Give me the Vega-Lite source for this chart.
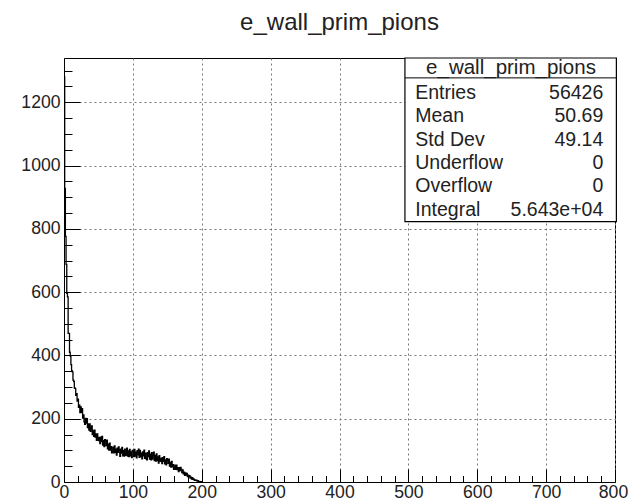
{
  "$schema": "https://vega.github.io/schema/vega-lite/v6.json",
  "width": 551,
  "height": 424,
  "autosize": {"type": "none"},
  "padding": {"left": 64, "top": 58, "right": 13, "bottom": 20},
  "background": "white",
  "title": {"text": "e_wall_prim_pions", "fontSize": 24, "font": "Liberation Sans", "fontWeight": "normal", "color": "#222", "anchor": "middle", "offset": 22},
  "config": {
    "view": {"stroke": "black", "strokeWidth": 1},
    "font": "Liberation Sans",
    "axis": {"domainColor": "black", "tickColor": "black", "labelColor": "#222", "labelFont": "Liberation Sans", "labelFontSize": 17.6, "title": null, "labelFlush": false, "labelOverlap": false, "gridColor": "#777", "gridDash": [2, 3], "gridWidth": 1}
  },
  "datasets": {
    "hist": [
      {"x":0,"n":1280},{"x":1,"n":928},{"x":2,"n":776},{"x":3,"n":688},{"x":4,"n":596},{"x":5,"n":585},{"x":6,"n":470},{"x":7,"n":470},{"x":8,"n":410},{"x":9,"n":398},
      {"x":10,"n":371},{"x":11,"n":352},{"x":12,"n":348},{"x":13,"n":322},{"x":14,"n":318},{"x":15,"n":297},{"x":16,"n":296},{"x":17,"n":274},{"x":18,"n":279},{"x":19,"n":256},
      {"x":20,"n":262},{"x":21,"n":236},{"x":22,"n":243},{"x":23,"n":219},{"x":24,"n":237},{"x":25,"n":219},{"x":26,"n":232},{"x":27,"n":202},{"x":28,"n":212},{"x":29,"n":190},
      {"x":30,"n":182},{"x":31,"n":201},{"x":32,"n":186},{"x":33,"n":200},{"x":34,"n":172},{"x":35,"n":184},{"x":36,"n":164},{"x":37,"n":184},{"x":38,"n":160},{"x":39,"n":169},
      {"x":40,"n":177},{"x":41,"n":150},{"x":42,"n":163},{"x":43,"n":144},{"x":44,"n":164},{"x":45,"n":142},{"x":46,"n":152},{"x":47,"n":132},{"x":48,"n":152},{"x":49,"n":138},
      {"x":50,"n":131},{"x":51,"n":141},{"x":52,"n":121},{"x":53,"n":142},{"x":54,"n":128},{"x":55,"n":144},{"x":56,"n":117},{"x":57,"n":131},{"x":58,"n":112},{"x":59,"n":134},
      {"x":60,"n":129},{"x":61,"n":115},{"x":62,"n":132},{"x":63,"n":105},{"x":64,"n":120},{"x":65,"n":101},{"x":66,"n":123},{"x":67,"n":101},{"x":68,"n":112},{"x":69,"n":92},
      {"x":70,"n":95},{"x":71,"n":110},{"x":72,"n":92},{"x":73,"n":114},{"x":74,"n":93},{"x":75,"n":104},{"x":76,"n":85},{"x":77,"n":107},{"x":78,"n":94},{"x":79,"n":111},
      {"x":80,"n":100},{"x":81,"n":81},{"x":82,"n":104},{"x":83,"n":91},{"x":84,"n":109},{"x":85,"n":83},{"x":86,"n":99},{"x":87,"n":82},{"x":88,"n":104},{"x":89,"n":84},
      {"x":90,"n":89},{"x":91,"n":107},{"x":92,"n":82},{"x":93,"n":98},{"x":94,"n":80},{"x":95,"n":103},{"x":96,"n":83},{"x":97,"n":95},{"x":98,"n":77},{"x":99,"n":100},
      {"x":100,"n":97},{"x":101,"n":80},{"x":102,"n":103},{"x":103,"n":82},{"x":104,"n":94},{"x":105,"n":76},{"x":106,"n":99},{"x":107,"n":86},{"x":108,"n":104},{"x":109,"n":78},
      {"x":110,"n":100},{"x":111,"n":80},{"x":112,"n":91},{"x":113,"n":73},{"x":114,"n":95},{"x":115,"n":83},{"x":116,"n":101},{"x":117,"n":75},{"x":118,"n":91},{"x":119,"n":73},
      {"x":120,"n":70},{"x":121,"n":93},{"x":122,"n":80},{"x":123,"n":98},{"x":124,"n":72},{"x":125,"n":88},{"x":126,"n":70},{"x":127,"n":93},{"x":128,"n":72},{"x":129,"n":84},
      {"x":130,"n":94},{"x":131,"n":68},{"x":132,"n":84},{"x":133,"n":66},{"x":134,"n":89},{"x":135,"n":68},{"x":136,"n":79},{"x":137,"n":60},{"x":138,"n":83},{"x":139,"n":70},
      {"x":140,"n":65},{"x":141,"n":75},{"x":142,"n":58},{"x":143,"n":77},{"x":144,"n":65},{"x":145,"n":80},{"x":146,"n":57},{"x":147,"n":70},{"x":148,"n":54},{"x":149,"n":74},
      {"x":150,"n":69},{"x":151,"n":59},{"x":152,"n":72},{"x":153,"n":50},{"x":154,"n":62},{"x":155,"n":47},{"x":156,"n":65},{"x":157,"n":48},{"x":158,"n":55},{"x":159,"n":40},
      {"x":160,"n":44},{"x":161,"n":53},{"x":162,"n":40},{"x":163,"n":53},{"x":164,"n":39},{"x":165,"n":45},{"x":166,"n":33},{"x":167,"n":45},{"x":168,"n":36},{"x":169,"n":46},
      {"x":170,"n":40},{"x":171,"n":30},{"x":172,"n":38},{"x":173,"n":26},{"x":174,"n":31},{"x":175,"n":21},{"x":176,"n":29},{"x":177,"n":22},{"x":178,"n":27},{"x":179,"n":17},
      {"x":180,"n":22},{"x":181,"n":16},{"x":182,"n":20},{"x":183,"n":12},{"x":184,"n":15},{"x":185,"n":9},{"x":186,"n":14},{"x":187,"n":8},{"x":188,"n":10},{"x":189,"n":5},
      {"x":190,"n":7},{"x":191,"n":5},{"x":192,"n":6},{"x":193,"n":3},{"x":194,"n":4},{"x":195,"n":2},{"x":196,"n":2},{"x":197,"n":1},{"x":198,"n":0},{"x":199,"n":1},
      {"x":200,"n":0}
    ],
    "stats": [
      {"row": 1, "label": "Entries", "value": "56426"},
      {"row": 2, "label": "Mean", "value": "50.69"},
      {"row": 3, "label": "Std Dev", "value": "49.14"},
      {"row": 4, "label": "Underflow", "value": "0"},
      {"row": 5, "label": "Overflow", "value": "0"},
      {"row": 6, "label": "Integral", "value": "5.643e+04"}
    ]
  },
  "layer": [
    {
      "data": {"name": "hist"},
      "mark": {"type": "line", "interpolate": "step-after", "color": "black", "strokeWidth": 1.3},
      "encoding": {
        "x": {"field": "x", "type": "quantitative", "scale": {"domain": [0, 800], "nice": false, "zero": false},
              "axis": {"orient": "bottom", "values": [0,100,200,300,400,500,600,700,800], "format": "d", "tickSize": -13, "labelPadding": 14, "grid": true,
                       "labelOffset": {"condition": {"test": "datum.value == 800", "value": -2}, "value": 0}}},
        "y": {"field": "n", "type": "quantitative", "scale": {"domain": [0, 1340], "nice": false},
              "axis": {"orient": "left", "values": [0,200,400,600,800,1000,1200], "format": "d", "tickSize": -16, "labelPadding": 20, "grid": true}}
      }
    },
    {
      "data": {"name": "hist"},
      "mark": {"type": "line", "opacity": 0},
      "encoding": {
        "x": {"field": "x", "type": "quantitative", "scale": {"domain": [0, 800], "nice": false, "zero": false},
              "axis": {"orient": "bottom", "values": [20,40,60,80,120,140,160,180,220,240,260,280,320,340,360,380,420,440,460,480,520,540,560,580,620,640,660,680,720,740,760,780], "tickSize": -6.5, "labels": false, "domain": false, "grid": false}},
        "y": {"field": "n", "type": "quantitative", "scale": {"domain": [0, 1340], "nice": false},
              "axis": {"orient": "left", "values": [50,100,150,250,300,350,450,500,550,650,700,750,850,900,950,1050,1100,1150,1250,1300], "tickSize": -8, "labels": false, "domain": false, "grid": false}}
      }
    },
    {
      "layer": [
        {
          "data": {"values": [{"box": "stats"}]},
          "mark": {"type": "rect", "fill": "white", "stroke": "black", "strokeWidth": 1.2},
          "encoding": {
            "x": {"datum": 495, "type": "quantitative", "axis": null},
            "x2": {"datum": 802},
            "y": {"datum": -0.49, "type": "quantitative", "scale": {"domain": [-0.49, 17.63], "reverse": true, "nice": false, "zero": false}, "axis": null},
            "y2": {"datum": 6.5}
          }
        },
        {
          "data": {"values": [{"box": "stats"}]},
          "mark": {"type": "rule", "stroke": "black", "strokeWidth": 1},
          "encoding": {
            "x": {"datum": 495, "type": "quantitative", "axis": null},
            "x2": {"datum": 802},
            "y": {"datum": 0.36, "type": "quantitative", "scale": {"domain": [-0.49, 17.63], "reverse": true, "nice": false, "zero": false}, "axis": null}
          }
        },
        {
          "data": {"values": [{"box": "stats"}]},
          "mark": {"type": "text", "text": "e_wall_prim_pions", "fontSize": 20.5, "color": "#222", "align": "center", "baseline": "middle"},
          "encoding": {
            "x": {"datum": 649, "type": "quantitative", "axis": null},
            "y": {"datum": -0.05, "type": "quantitative", "scale": {"domain": [-0.49, 17.63], "reverse": true, "nice": false, "zero": false}, "axis": null}
          }
        },
        {
          "data": {"name": "stats"},
          "mark": {"type": "text", "fontSize": 19.5, "color": "#222", "align": "left", "baseline": "middle"},
          "encoding": {
            "x": {"datum": 510, "type": "quantitative", "axis": null},
            "y": {"field": "row", "type": "quantitative", "scale": {"domain": [-0.49, 17.63], "reverse": true, "nice": false, "zero": false}, "axis": null},
            "text": {"field": "label"}
          }
        },
        {
          "data": {"name": "stats"},
          "mark": {"type": "text", "fontSize": 19.5, "color": "#222", "align": "right", "baseline": "middle"},
          "encoding": {
            "x": {"datum": 783, "type": "quantitative", "axis": null},
            "y": {"field": "row", "type": "quantitative", "scale": {"domain": [-0.49, 17.63], "reverse": true, "nice": false, "zero": false}, "axis": null},
            "text": {"field": "value"}
          }
        }
      ]
    }
  ],
  "resolve": {"scale": {"y": "independent"}, "axis": {"x": "independent", "y": "independent"}}
}
